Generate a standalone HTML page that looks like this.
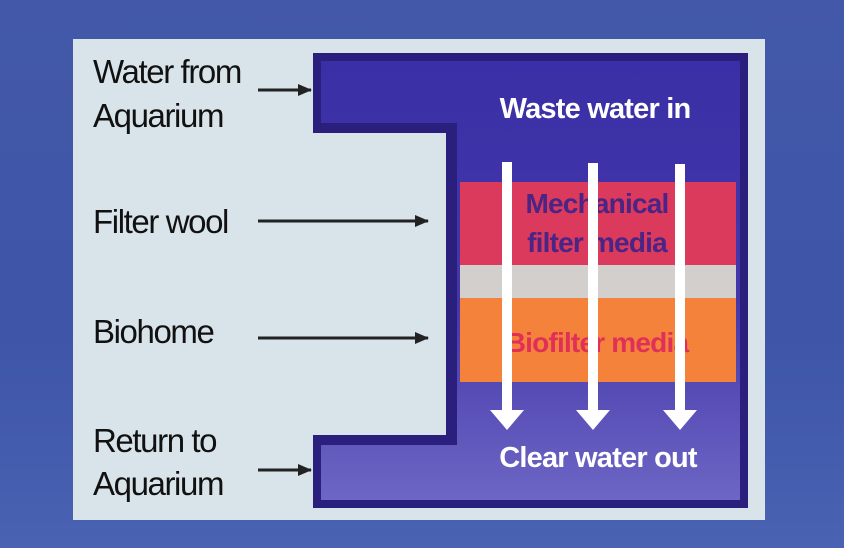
<!DOCTYPE html>
<html><head><meta charset="utf-8"><style>
html,body{margin:0;padding:0;}
body{width:844px;height:548px;overflow:hidden;background:linear-gradient(180deg,#4358a8 0%,#3e55a8 60%,#4a62b2 100%);font-family:"Liberation Sans",Arial,sans-serif;}
</style></head><body>
<svg width="844" height="548" viewBox="0 0 844 548" xmlns="http://www.w3.org/2000/svg" style="position:absolute;left:0;top:0">
<defs>
<linearGradient id="inner" x1="0" y1="0" x2="0" y2="1">
<stop offset="0" stop-color="#3a2fa6"/>
<stop offset="0.55" stop-color="#4537aa"/>
<stop offset="1" stop-color="#6d66c4"/>
</linearGradient>
<marker id="ah" markerWidth="14" markerHeight="12" refX="13" refY="6" orient="auto" markerUnits="userSpaceOnUse">
<path d="M0,0 L14,6 L0,12 z" fill="#222"/>
</marker>
</defs>
<rect x="73" y="39" width="692" height="481" fill="#d8e3ea"/>
<path d="M313,53 H748 V508 H313 V435 H446 V133 H313 Z" fill="#2a1f7c"/>
<path d="M321,61 H740 V500 H321 V445 H457 V123 H321 Z" fill="url(#inner)"/>
<rect x="460" y="182" width="276" height="83" fill="#dc3a5c"/>
<rect x="460" y="265" width="276" height="33" fill="#d2cfcc"/>
<rect x="460" y="298" width="276" height="84" fill="#f4823a"/>
<g font-weight="bold" text-anchor="middle" letter-spacing="-0.8">
<text x="597" y="213" font-size="28" fill="#4a2585">Mechanical</text>
<text x="597" y="252" font-size="28" fill="#4a2585">filter media</text>
<text x="597" y="352" font-size="28" fill="#e0305a">Biofilter media</text>
<text x="595" y="118" font-size="29" fill="#fff">Waste water in</text>
<text x="598" y="467" font-size="29" fill="#fff">Clear water out</text>
</g>
<g fill="#fff">
<rect x="502" y="162" width="10" height="250"/><path d="M490,410 H524 L507,430 Z"/>
<rect x="588" y="163" width="10" height="250"/><path d="M576,410 H610 L593,430 Z"/>
<rect x="675" y="164" width="10" height="250"/><path d="M663,410 H697 L680,430 Z"/>
</g>
<g font-size="33" fill="#111" letter-spacing="-1.4">
<text x="93" y="83">Water from</text>
<text x="93" y="127">Aquarium</text>
<text x="93" y="233">Filter wool</text>
<text x="93" y="343">Biohome</text>
<text x="93" y="452">Return to</text>
<text x="93" y="495">Aquarium</text>
</g>
<g stroke="#222" stroke-width="3">
<line x1="258" y1="90" x2="311" y2="90" marker-end="url(#ah)"/>
<line x1="258" y1="221" x2="428" y2="221" marker-end="url(#ah)"/>
<line x1="258" y1="338" x2="428" y2="338" marker-end="url(#ah)"/>
<line x1="258" y1="470" x2="311" y2="470" marker-end="url(#ah)"/>
</g>
</svg>
</body></html>
